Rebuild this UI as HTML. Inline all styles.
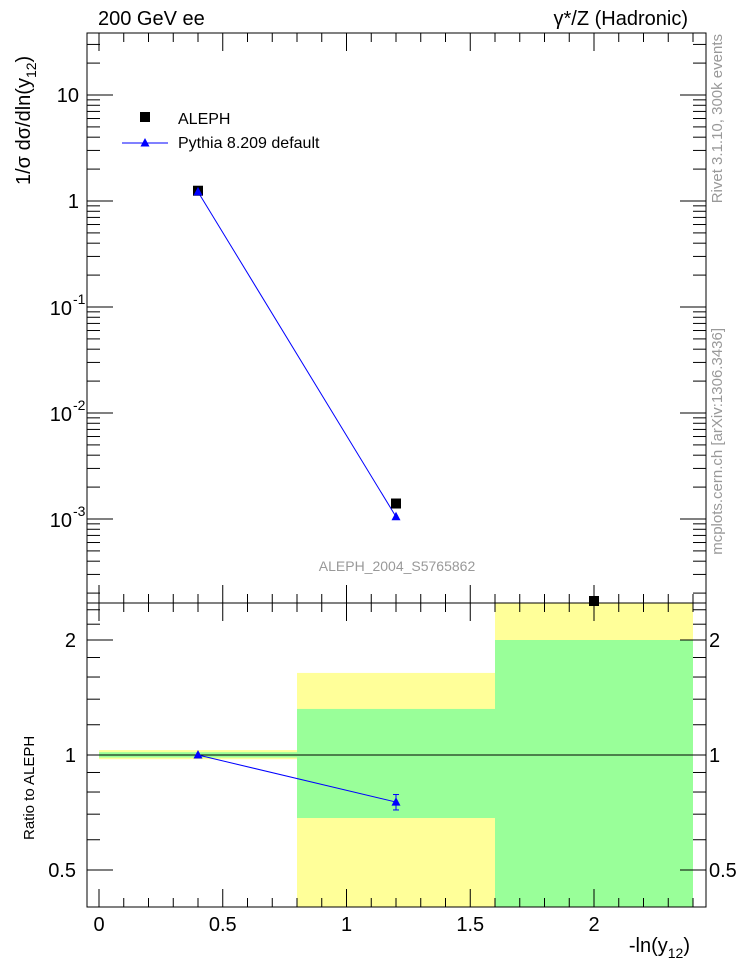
<!DOCTYPE html>
<html><head><meta charset="utf-8"><style>
body{margin:0;background:#fff;width:746px;height:972px;overflow:hidden}
svg text{font-family:"Liberation Sans",sans-serif}
</style></head><body>
<svg id="c" width="746" height="972" xmlns="http://www.w3.org/2000/svg"></svg>
<script>
const xs=[0.4,1.2,2.0];
const alephVals=[1.25,1.4e-3,1.65e-4];
const pythiaVals=[1.22,1.05e-3];
const binEdges=[0,0.8,1.6,2.4];
const yellowLo=[0.975,0.3,0.3];
const yellowHi=[1.03,1.64,2.6];
const greenLo=[0.985,0.684,0.3];
const greenHi=[1.017,1.32,2.0];
const ratioVals=[1.0,0.753];
const ratioErr=[0.005,0.035];
const xTicks=[0,0.5,1,1.5,2];
const xTickLabels=["0","0.5","1","1.5","2"];
const ratioTicks=[0.5,1,2];
const ratioTickLabels=["0.5","1","2"];

const NS="http://www.w3.org/2000/svg",S=document.getElementById('c');
function el(t,a,p){const e=document.createElementNS(NS,t);for(const k in a)e.setAttribute(k,a[k]);(p||S).appendChild(e);return e;}
const L=87,R=706,T=33,M=603,B=907;
const X=v=>99+v*247.5;
const Ym=v=>95-(Math.log10(v)-1)*106;
const Yr=v=>755-Math.log10(v)*382;

const bands=el('g',{});


for(let i=0;i<3;i++){
 const x0=X(binEdges[i]),x1=X(binEdges[i+1]);
 const yt=Math.max(M,Yr(yellowHi[i])),yb=Math.min(B,Yr(yellowLo[i]));
 const r=el('rect',{x:x0,y:yt,width:x1-x0,height:yb-yt,fill:'#ffff99'},bands);
 
 
 const gt=Math.max(M,Yr(greenHi[i])),gb=Math.min(B,Yr(greenLo[i]));
 const g=el('rect',{x:x0,y:gt,width:x1-x0,height:gb-gt,fill:'#99ff99'},bands);
 
 
}
el('line',{x1:L,x2:R,y1:Yr(1),y2:Yr(1),stroke:'#000','stroke-width':1});

const f1=el('rect',{x:L,y:T,width:R-L,height:M-T,fill:'none',stroke:'#000'});

const f2=el('rect',{x:L,y:M,width:R-L,height:B-M,fill:'none',stroke:'#000'});


for(let v=0;v<=2.41;v+=0.1){
 const x=X(v),maj=Math.abs(v*2-Math.round(v*2))<1e-6;
 const h=maj?18:9;
 [T,M].forEach(y=>el('line',{x1:x,x2:x,y1:y,y2:y+h,stroke:'#000'}));
 [M,B].forEach(y=>el('line',{x1:x,x2:x,y1:y,y2:y-h,stroke:'#000'}));
}
xTicks.forEach((v,i)=>{const t=el('text',{x:X(v),y:931,'font-size':20,'text-anchor':'middle'});t.textContent=xTickLabels[i];
});

for(let d=-4;d<=1;d++){for(let k=1;k<10;k++){const v=k*Math.pow(10,d);const y=Ym(v);if(y<T||y>M)continue;
 const h=k==1?26:13;el('line',{x1:L,x2:L+h,y1:y,y2:y,stroke:'#000'});el('line',{x1:R,x2:R-h,y1:y,y2:y,stroke:'#000'});}}
[[10,'10'],[1,'1']].forEach(([v,s])=>{const t=el('text',{x:79,y:Ym(v)+7,'font-size':20,'text-anchor':'end'});t.textContent=s;});
[[0.1,'-1'],[0.01,'-2'],[0.001,'-3']].forEach(([v,s])=>{const t=el('text',{x:72,y:Ym(v)+8,'font-size':20,'text-anchor':'end'});t.textContent='10';
 const e=el('text',{x:73,y:Ym(v)-3,'font-size':14});e.textContent=s;});

for(let k=4;k<=25;k++){const v=k/10;if(k>10&&k%2)continue;const y=Yr(v);if(y<M||y>B)continue;const maj=ratioTicks.includes(v);const h=maj?26:13;
 el('line',{x1:L,x2:L+h,y1:y,y2:y,stroke:'#000'});el('line',{x1:R,x2:R-h,y1:y,y2:y,stroke:'#000'});}
ratioTicks.forEach((v,i)=>{const t=el('text',{x:76,y:Yr(v)+7,'font-size':20,'text-anchor':'end'});t.textContent=ratioTickLabels[i];
 const t2=el('text',{x:709,y:Yr(v)+7,'font-size':20});t2.textContent=ratioTickLabels[i];});

const pts=pythiaVals.map((v,i)=>X(xs[i])+','+Ym(v)).join(' ');
const pl=el('polyline',{points:pts,fill:'none',stroke:'#0000ff','stroke-width':1});

alephVals.forEach((v,i)=>{const y=Math.min(Ym(v),M-2);const r=el('rect',{x:X(xs[i])-5,y:y-5,width:10,height:10,fill:'#000'});
 });
function tri(x,y,p){return el('polygon',{points:`${x},${y-5} ${x-4.5},${y+3.5} ${x+4.5},${y+3.5}`,fill:'#0000ff'},p);}
pythiaVals.forEach((v,i)=>{const t=tri(X(xs[i]),Ym(v));});

const rp=ratioVals.map((v,i)=>X(xs[i])+','+Yr(v)).join(' ');
el('polyline',{points:rp,fill:'none',stroke:'#0000ff','stroke-width':1});
ratioVals.forEach((v,i)=>{const x=X(xs[i]);
 el('line',{x1:x,x2:x,y1:Yr(v+ratioErr[i]),y2:Yr(v-ratioErr[i]),stroke:'#0000ff'});
 if(ratioErr[i]>0.01){[v+ratioErr[i],v-ratioErr[i]].forEach(e=>el('line',{x1:x-3,x2:x+3,y1:Yr(e),y2:Yr(e),stroke:'#0000ff'}));}
 const t=tri(x,Yr(v));});

el('rect',{x:140,y:112,width:10,height:10,fill:'#000'});
let t=el('text',{x:178,y:124,'font-size':16});t.textContent='ALEPH';
el('line',{x1:122,x2:168,y1:143,y2:143,stroke:'#0000ff'});tri(145,143);
t=el('text',{x:178,y:148,'font-size':16});t.textContent='Pythia 8.209 default';

t=el('text',{x:98,y:25,'font-size':20});t.textContent='200 GeV ee';
t=el('text',{x:688,y:25,'font-size':20,'text-anchor':'end'});t.textContent='γ*/Z (Hadronic)';
t=el('text',{x:397,y:571,'font-size':14,fill:'#999','text-anchor':'middle'});t.textContent='ALEPH_2004_S5765862';
t=el('text',{x:0,y:0,'font-size':20,transform:'translate(30,185) rotate(-90)'});t.innerHTML='1/σ  dσ/dln(y<tspan font-size="14" dy="6">12</tspan><tspan dy="-6">)</tspan>';

t=el('text',{x:0,y:0,'font-size':15,transform:'translate(34,840) rotate(-90)'});t.textContent='Ratio to ALEPH';
t=el('text',{x:690,y:952,'font-size':20,'text-anchor':'end'});
t.innerHTML='-ln(y<tspan font-size="14" dy="6">12</tspan><tspan dy="-6">)</tspan>';
t=el('text',{x:0,y:0,'font-size':15,fill:'#999','text-anchor':'end',transform:'translate(722,34) rotate(-90)'});t.textContent='Rivet 3.1.10,  300k events';
t=el('text',{x:0,y:0,'font-size':15,fill:'#999','text-anchor':'end',transform:'translate(722,328) rotate(-90)'});t.textContent='mcplots.cern.ch [arXiv:1306.3436]';
</script>
</body></html>
